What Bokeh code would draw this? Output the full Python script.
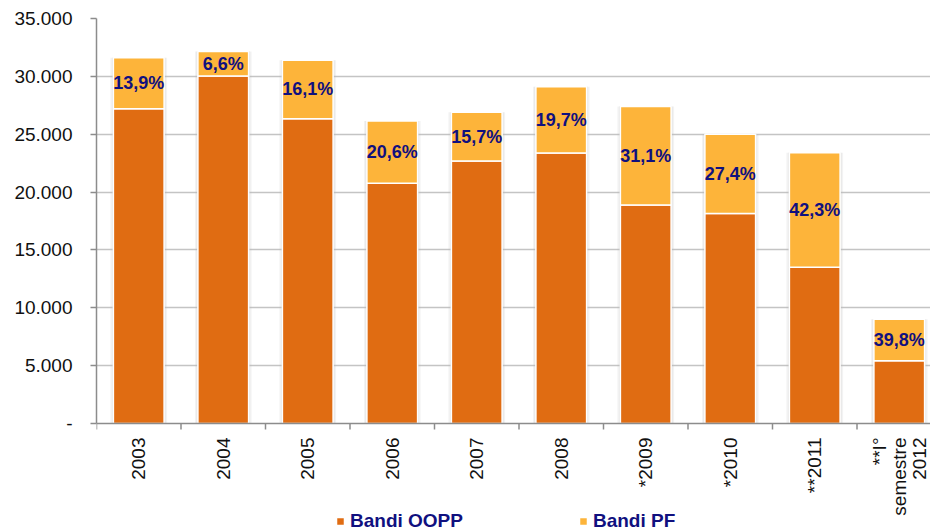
import math
from bokeh.plotting import figure
from bokeh.models import (ColumnDataSource, FixedTicker, Range1d, Legend,
                          LegendItem, Span)
from bokeh.core.properties import value
from bokeh.embed import file_html
from bokeh.resources import INLINE

# Bandi di gara: importi per anno (OOPP + PF)
years = ["2003", "2004", "2005", "2006", "2007", "2008",
         "*2009", "*2010", "**2011", "**I°\nsemestre\n2012"]
oopp = [27210, 30030, 26340, 20760, 22680, 23370, 18880, 18150, 13500, 5420]
pf = [4390, 2120, 5060, 5390, 4220, 5730, 8520, 6850, 9900, 3580]

y_ticks = [0, 5000, 10000, 15000, 20000, 25000, 30000, 35000]
y_tick_labels = ["-", "5.000", "10.000", "15.000", "20.000",
                 "25.000", "30.000", "35.000"]

C_OOPP = "#E06C12"
C_PF = "#FDB43A"
C_TEXT = "#10107F"
C_AXIS = "#8c8c8c"
FONT = "Liberation Sans"

W, H = 930, 532
TOP, LEFT = 18, 96          # frame offsets in px
ZERO_PX = 423               # screen row of the value 0
Y_MAX = 35000
unit = Y_MAX / (ZERO_PX - TOP)          # data units per pixel
y_min = -(H - ZERO_PX) * unit            # room for the category labels
x_end = (W - LEFT) / 84.5                # one category = 84.5 px

n = len(years)
centers = [i + 0.5 for i in range(n)]
bounds = list(range(n + 1))
totals = [a + b for a, b in zip(oopp, pf)]
shares = [b / t for b, t in zip(pf, totals)]
share_labels = [f"{s * 100:.1f}".replace(".", ",") + "%" for s in shares]
label_y = [a + b / 2 for a, b in zip(oopp, pf)]

src = ColumnDataSource(dict(x=centers, oopp=oopp, pf=pf, top=totals,
                            lab=share_labels, ly=label_y))

p = figure(width=W, height=H, output_backend="svg", toolbar_location=None,
           x_range=Range1d(0, x_end), y_range=Range1d(y_min, Y_MAX),
           x_axis_location=None,
           min_border_left=LEFT, min_border_right=0, min_border_top=TOP,
           min_border_bottom=0)
p.outline_line_color = None
p.background_fill_color = "white"
p.border_fill_color = "white"

# soft shadow around the columns
p.vbar(x="x", bottom=0, top="top", width=0.67, source=src,
       fill_color="#bbbbbb", fill_alpha=0.18, line_color=None)
p.vbar(x="x", bottom=0, top="top", width=0.635, source=src,
       fill_color="#bbbbbb", fill_alpha=0.25, line_color=None)

r_oopp = p.vbar(x="x", bottom=0, top="oopp", width=0.6, source=src,
                fill_color=C_OOPP, line_color="white", line_width=1.5)
r_pf = p.vbar(x="x", bottom="oopp", top="top", width=0.6, source=src,
              fill_color=C_PF, line_color="white", line_width=1.5)

# share of PF in each column
p.text(x="x", y="ly", text="lab", source=src,
       text_align="center", text_baseline="middle",
       text_font=value(FONT), text_font_style="bold",
       text_font_size="18px", text_color=C_TEXT)

# y axis
p.yaxis.bounds = (0, Y_MAX)
p.yaxis.ticker = FixedTicker(ticks=y_ticks)
p.yaxis.major_label_overrides = {t: s for t, s in zip(y_ticks, y_tick_labels)}
p.yaxis.major_label_text_font = FONT
p.yaxis.major_label_text_font_size = "19px"
p.yaxis.major_label_text_color = "#111111"
p.yaxis.major_label_standoff = 18
p.yaxis.major_tick_out = 6
p.yaxis.major_tick_in = 0
p.yaxis.minor_tick_line_color = None
p.yaxis.axis_line_color = C_AXIS
p.yaxis.axis_line_width = 1.5
p.yaxis.major_tick_line_color = C_AXIS
p.yaxis.major_tick_line_width = 1.5

p.xgrid.visible = False
p.ygrid.ticker = FixedTicker(ticks=y_ticks[1:])
p.ygrid.grid_line_color = "#c4c4c4"
p.ygrid.grid_line_width = 1.5

# category axis: base line, separators and rotated labels
p.add_layout(Span(location=0, dimension="width", line_color=C_AXIS,
                  line_width=1.5))
p.segment(x0=bounds, x1=bounds, y0=[0] * len(bounds),
          y1=[-6 * unit] * len(bounds), line_color=C_AXIS, line_width=1.5)
p.text(x=centers, y=[-14 * unit] * n, text=years, angle=math.pi / 2,
       text_align="right", text_baseline="middle",
       text_font=value(FONT), text_font_size="19px", text_color="#111111",
       text_line_height=0.95)

legend = Legend(items=[LegendItem(label="Bandi OOPP", renderers=[r_oopp]),
                       LegendItem(label="Bandi PF", renderers=[r_pf])],
                orientation="horizontal", location=(239, 0),
                glyph_width=10, glyph_height=10, label_standoff=5,
                spacing=115, padding=0, margin=0,
                border_line_color=None, background_fill_alpha=0,
                label_text_font=FONT, label_text_font_style="bold",
                label_text_font_size="19px", label_text_color=C_TEXT,
                label_height=22)
p.add_layout(legend, "center")

open("out.html", "w").write(file_html(p, INLINE))
